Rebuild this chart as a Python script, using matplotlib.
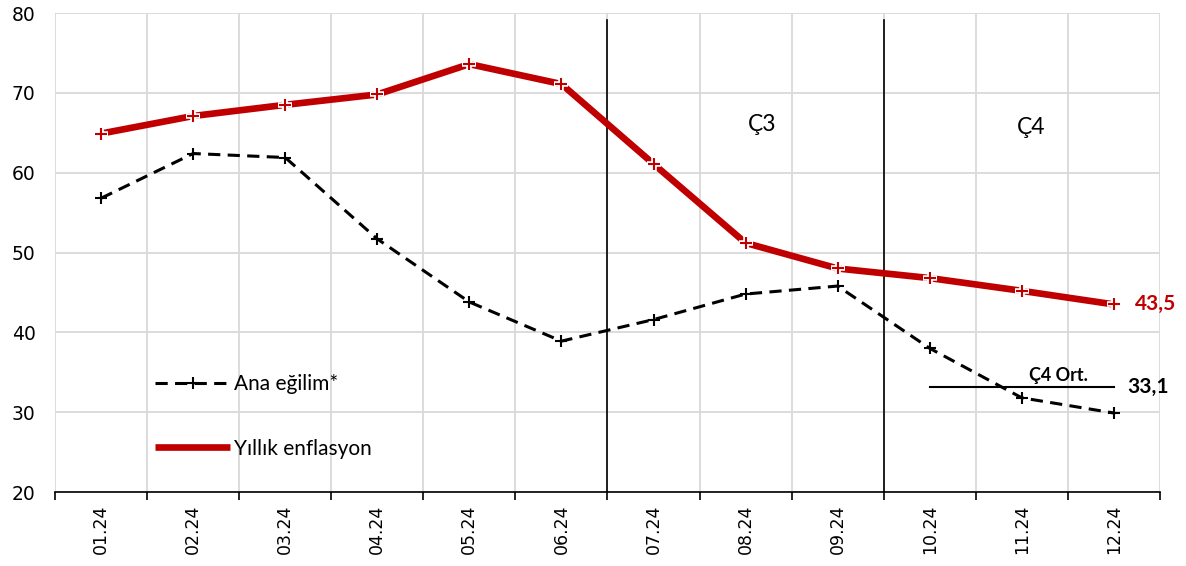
import matplotlib
matplotlib.use("Agg")
import matplotlib.pyplot as plt
import numpy as np

months = ["01.24", "02.24", "03.24", "04.24", "05.24", "06.24",
          "07.24", "08.24", "09.24", "10.24", "11.24", "12.24"]
yillik = [64.9, 67.1, 68.5, 69.8, 73.6, 71.1, 61.1, 51.2, 48.0, 46.8, 45.2, 43.5]
ana_egilim = [56.8, 62.4, 61.9, 51.7, 43.8, 38.9, 41.6, 44.8, 45.8, 38.0, 31.8, 29.9]
q4_avg = 33.1
quarter_breaks = [5.5, 8.5]
quarter_labels = ["Ç3", "Ç4"]

plt.rcParams["font.family"] = ["Lato", "DejaVu Sans"]

fig = plt.figure(figsize=(11.86, 5.66), dpi=100)
ax = fig.add_axes([0.0464, 0.1307, 0.9316, 0.8463])

x = np.arange(len(months))

# axes, ticks and grid
ax.set_xlim(-0.5, len(months) - 0.5)
ax.set_ylim(20, 80)
ax.set_yticks(np.arange(20, 81, 10))
ax.set_xticks(x)
ax.set_xticklabels(months, rotation=90, family="DejaVu Sans")
ax.set_xticks(np.arange(-0.5, len(months), 1.0), minor=True)
for lbl in ax.get_yticklabels():
    lbl.set_family("DejaVu Sans")
ax.grid(True, which="major", axis="y", color="#d9d9d9", lw=1.3)
ax.grid(True, which="minor", axis="x", color="#d9d9d9", lw=1.3)
ax.set_axisbelow(True)
for s in ["top", "right", "left"]:
    ax.spines[s].set_visible(False)
ax.spines["bottom"].set_color("black")
ax.spines["bottom"].set_linewidth(1.2)
ax.tick_params(axis="x", which="major", length=0, labelsize=12.5, pad=9, colors="black")
ax.tick_params(axis="x", which="minor", length=6, width=1.2, color="black", direction="out")
ax.tick_params(axis="y", length=0, labelsize=13.5, pad=14)

# quarter separators
for xb in quarter_breaks:
    ax.axvline(xb, ymin=0.0, ymax=0.985, color="black", lw=1.2, zorder=2)
ax.text(7.18, 66.0, quarter_labels[0], fontsize=16.5, ha="center", va="center")
ax.text(10.1, 65.6, quarter_labels[1], fontsize=16.5, ha="center", va="center")

# series
l2, = ax.plot(x, yillik, color="#c00000", lw=4.8, solid_capstyle="butt", zorder=4,
              label="Yıllık enflasyon")
ax.plot(x, yillik, ls="none", marker="+", ms=10, mew=4, color="white", zorder=5)
ax.plot(x, yillik, ls="none", marker="+", ms=9, mew=1.5, color="#c00000", zorder=6)
l1, = ax.plot(x, ana_egilim, color="black", lw=2.2, ls=(0, (4, 2.4)), marker="+",
              ms=9, mew=1.5, zorder=4, label="Ana eğilim*")

# Q4 average
ax.plot([9.0, 11.0], [q4_avg, q4_avg], color="black", lw=1.5, zorder=3)
ax.text(10.4, q4_avg + 0.4, "Ç4 Ort.", fontsize=13, fontweight="bold",
        ha="center", va="bottom")
ax.text(11.15, q4_avg, "33,1", fontsize=15, fontweight="bold", ha="left", va="center")
ax.text(11.23, yillik[-1], "43,5", fontsize=15, fontweight="bold", color="#c00000",
        ha="left", va="center")

leg = ax.legend(handles=[l1, l2], loc="upper left", bbox_to_anchor=(0.083, 0.264),
                frameon=False, fontsize=15, handlelength=3.6, handletextpad=0.2,
                labelspacing=2.15, borderaxespad=0)

fig.savefig("out.png", dpi=100)
